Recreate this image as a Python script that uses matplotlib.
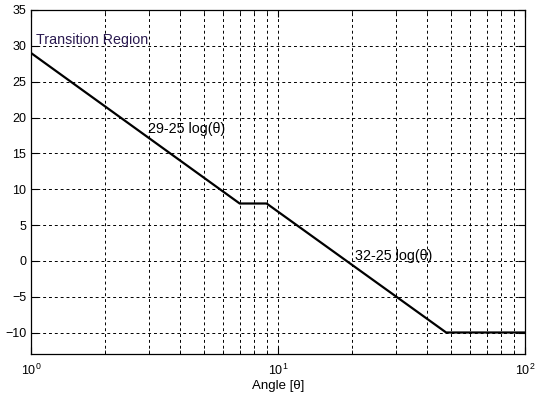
import numpy as np
import matplotlib
matplotlib.use("Agg")
import matplotlib.pyplot as plt
from matplotlib.ticker import LogLocator, NullFormatter

plt.rcParams["font.family"] = ["Liberation Sans", "DejaVu Sans"]

# piecewise gain curve (breakpoints)
angle = [1, 7, 9, 48, 100]
gain = [29, 8, 8, -10, -10]
yticks = [-10, -5, 0, 5, 10, 15, 20, 25, 30, 35]

fig = plt.figure(figsize=(5.35, 4), dpi=100)
ax = fig.add_axes([0.058, 0.115, 0.923, 0.86])

ax.semilogx(angle, gain, color="black", lw=1.6)

ax.set_xlim(1, 100)
ax.set_ylim(-13, 35)
ax.set_yticks(yticks)
ax.xaxis.set_major_locator(LogLocator(base=10))
ax.xaxis.set_minor_locator(LogLocator(base=10, subs=np.arange(2, 10)))
ax.xaxis.set_minor_formatter(NullFormatter())

ax.grid(True, which="both", axis="x", ls=(0, (3, 3)), color="black", lw=0.7)
ax.grid(True, which="major", axis="y", ls=(0, (3, 3)), color="black", lw=0.7)

ax.tick_params(which="both", direction="in", top=True, right=True, labelsize=9)
ax.tick_params(which="major", length=5)
ax.tick_params(which="minor", length=3)
ax.tick_params(axis="x", pad=6)
for s in ax.spines.values():
    s.set_linewidth(0.9)

ax.text(1.05, 30.2, "Transition Region", fontsize=10.3, color="#2a1a50")
ax.text(2.98, 18.4, "29-25 log(θ)", fontsize=10.3, va="center")
ax.text(20.5, 0.7, "32-25 log(θ)", fontsize=10.3, va="center")

ax.set_xlabel("Angle [θ]", fontsize=9.5, labelpad=2)

fig.savefig("out.png", dpi=100)
